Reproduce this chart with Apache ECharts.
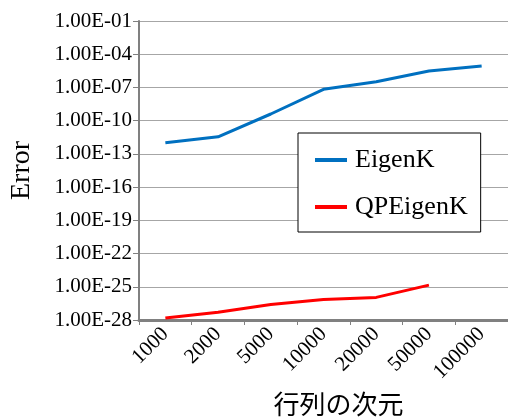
<!DOCTYPE html>
<html><head><meta charset="utf-8">
<script src="https://cdn.jsdelivr.net/npm/echarts@6/dist/echarts.min.js"></script>
<style>html,body{margin:0;padding:0;background:#fff}#c{width:508px;height:417px}</style>
</head><body><div id="c"></div>
<script>
const categories = ['1000','2000','5000','10000','20000','50000','100000'];
const eigenK = [1.0e-12, 3.5e-12, 4e-10, 6.8e-8, 3.3e-7, 3.0e-6, 8.5e-6];
const qpEigenK = [1.5e-28, 5e-28, 2.5e-27, 7e-27, 1.1e-26, 1.4e-25, null];
const yMinExp = -28, yMaxExp = -1, yStepExp = 3;

const serif = '"Liberation Serif", "DejaVu Serif", serif';
const toLog = arr => arr.map(v => v == null ? null : Math.log10(v));
function fmt(e){
  e = Math.round(e);
  const a = Math.abs(e);
  return '1.00E' + (e < 0 ? '-' : '+') + (a < 10 ? '0' + a : '' + a);
}
const chart = echarts.init(document.getElementById('c'), null, {renderer:'canvas'});
chart.setOption({
  animation:false,
  backgroundColor:'#fff',
  grid:{left:139, right:0, top:21, bottom:97, containLabel:false, outerBoundsMode:'none'},
  legend:{
    orient:'vertical', left:298, top:133, width:181,
    backgroundColor:'#fff', borderColor:'#000', borderWidth:1,
    padding:[14,13,12,17], itemGap:21,
    itemWidth:32, itemHeight:4, icon:'rect',
    textStyle:{fontFamily:serif, fontSize:26, color:'#000', padding:[0,0,0,3]},
    data:['EigenK','QPEigenK']
  },
  xAxis:{
    type:'category', data:categories, boundaryGap:true,
    name:'行列の次元', nameLocation:'middle', nameGap:71,
    nameTextStyle:{fontFamily:'"Noto Sans CJK JP", sans-serif', fontSize:26, color:'#000', padding:[0,0,0,30]},
    axisLine:{lineStyle:{color:'#808080', width:3}},
    axisTick:{show:true, length:5, lineStyle:{color:'#808080', width:1}},
    axisLabel:{rotate:45, fontFamily:serif, fontSize:21, color:'#000', margin:11}
  },
  yAxis:{
    type:'value', min:yMinExp, max:yMaxExp, interval:yStepExp,
    name:'Error', nameLocation:'middle', nameGap:103, nameRotate:90,
    nameTextStyle:{fontFamily:serif, fontSize:28, color:'#000'},
    axisLine:{show:true, lineStyle:{color:'#808080', width:2}},
    axisTick:{show:true, length:6, lineStyle:{color:'#808080', width:1}},
    axisLabel:{fontFamily:serif, fontSize:21, color:'#000', margin:7, formatter:fmt},
    splitLine:{show:true, lineStyle:{color:'#a6a6a6', width:1}}
  },
  series:[
    {name:'EigenK', type:'line', data:toLog(eigenK), showSymbol:false, symbol:'none',
     lineStyle:{color:'#0070C0', width:3}, itemStyle:{color:'#0070C0'}},
    {name:'QPEigenK', type:'line', data:toLog(qpEigenK), showSymbol:false, symbol:'none',
     lineStyle:{color:'#FF0000', width:3}, itemStyle:{color:'#FF0000'}}
  ]
});
</script></body></html>
